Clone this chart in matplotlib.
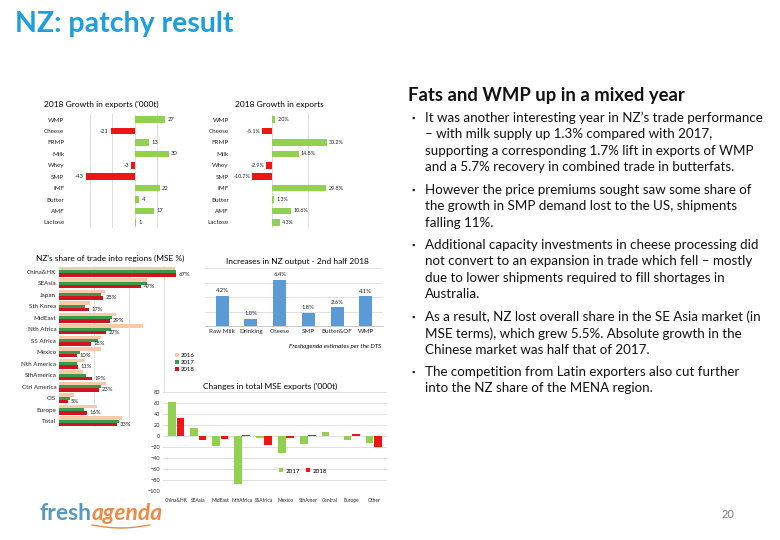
import matplotlib
matplotlib.use("Agg")
import numpy as np
import matplotlib.pyplot as plt

plt.rcParams['font.family'] = ['Lato', 'DejaVu Sans']

# ---- data ----
prod_cats = ['WMP', 'Cheese', 'FRMP', 'Milk', 'Whey', 'SMP', 'IMF', 'Butter', 'AMF', 'Lactose']
growth_kt = [27, -21, 13, 30, -3, -43, 22, 4, 17, 1]
growth_pct = [2.0, -5.1, 30.2, 14.8, -2.9, -10.7, 29.8, 1.3, 10.6, 4.3]

regions = ['China&HK', 'SEAsia', 'Japan', 'Sth Korea', 'MidEast', 'Nth Africa', 'SS Africa',
           'Mexico', 'Nth America', 'SthAmerica', 'Ctrl America', 'CIS', 'Europe', 'Total']
share_2016 = [66.5, 50, 26, 17.5, 32.5, 48, 24, 24, 15, 13.5, 27, 8.5, 21.5, 36]
share_2017 = [67, 50, 24, 15, 30, 29.5, 22, 12, 10, 15.5, 24, 6.5, 14, 34]
share_2018 = [67, 47, 25, 17, 29, 27, 18, 10, 11, 19, 23, 5, 16, 33]

output_cats = ['Raw Milk', 'Drinking', 'Cheese', 'SMP', 'Butter&OF', 'WMP']
output_pct = [4.2, 1.0, 6.4, 1.8, 2.6, 4.1]

mse_cats = ['China&HK', 'SEAsia', 'MidEast', 'NthAfrica', 'SSAfrica', 'Mexico',
            'SthAmer', 'Central', 'Europe', 'Other']
mse_2017 = [62, 15, -18, -88, -3, -30, -14, 7, -8, -12]
mse_2018 = [33, -7, -5, 2, -16, -3, 2, 0, 3, -20]

bullets = [
    ["It was another interesting year in NZ\u2019s trade performance",
     "\u2013 with milk supply up 1.3% compared with 2017,",
     "supporting a corresponding 1.7% lift in exports of WMP",
     "and a 5.7% recovery in combined trade in butterfats."],
    ["However the price premiums sought saw some share of",
     "the growth in SMP demand lost to the US, shipments",
     "falling 11%."],
    ["Additional capacity investments in cheese processing did",
     "not convert to an expansion in trade which fell \u2013 mostly",
     "due to lower shipments required to fill shortages in",
     "Australia."],
    ["As a result, NZ lost overall share in the SE Asia market (in",
     "MSE terms), which grew 5.5%. Absolute growth in the",
     "Chinese market was half that of 2017."],
    ["The competition from Latin exporters also cut further",
     "into the NZ share of the MENA region."],
]
bullet_y = [118, 190, 245, 317, 372]

GREEN = '#92D050'
RED = '#F01515'
TAN = '#F6C9A8'
DGREEN = '#3A9A4C'
DRED = '#D0131E'
BLUE = '#5B9BD5'
GRID = '#D9D9D9'
W, H = 780, 540


def box(x0, y0, x1, y1):
    # pixel box (top-left origin) -> figure fraction rect
    return [x0 / W, 1 - y1 / H, (x1 - x0) / W, (y1 - y0) / H]


def clean(ax):
    for s in ax.spines.values():
        s.set_visible(False)
    ax.tick_params(length=0, labelsize=4.5, colors='#222222', pad=2)


fig = plt.figure(figsize=(7.8, 5.4), dpi=100)

fig.text(15 / W, 1 - 24 / H, 'NZ: patchy result', color='#1E9FDA', fontsize=20.5,
         fontweight='bold', va='center', ha='left')

# ---- chart 1: growth in exports ('000t) ----
ax1 = fig.add_axes(box(67, 114, 180, 228))
y = np.arange(len(prod_cats))
ax1.barh(y, growth_kt, height=0.58, color=[GREEN if v >= 0 else RED for v in growth_kt], zorder=2)
ax1.set_xlim(-60, 40)
ax1.set_ylim(len(prod_cats) - 0.5, -0.5)
ax1.set_xticks([-40, -20, 0, 20, 40])
ax1.set_xticklabels([])
ax1.set_yticks(y)
ax1.set_yticklabels(prod_cats)
ax1.grid(axis='x', color=GRID, lw=0.6, zorder=0)
clean(ax1)
for i, v in enumerate(growth_kt):
    ax1.text(v + (2 if v >= 0 else -2), i, str(v), fontsize=4.2, va='center',
             ha='left' if v >= 0 else 'right', color='#222222')
fig.text(101 / W, 1 - 104 / H, "2018 Growth in exports ('000t)", fontsize=6, ha='center', va='center')

# ---- chart 2: growth in exports (%) ----
ax2 = fig.add_axes(box(237, 114, 343, 228))
ax2.barh(y, growth_pct, height=0.58, color=[GREEN if v >= 0 else RED for v in growth_pct], zorder=2)
ax2.set_xlim(-19, 39)
ax2.set_ylim(len(prod_cats) - 0.5, -0.5)
ax2.set_xticks([0, 20])
ax2.set_xticklabels([])
ax2.set_yticks(y)
ax2.set_yticklabels(prod_cats)
ax2.grid(axis='x', color=GRID, lw=0.6, zorder=0)
clean(ax2)
ax2.tick_params(axis='y', pad=6)
for i, v in enumerate(growth_pct):
    ax2.text(v + (1.2 if v >= 0 else -1.0), i, f'{v:.1f}%', fontsize=3.9, va='center',
             ha='left' if v >= 0 else 'right', color='#222222')
fig.text(279 / W, 1 - 104 / H, '2018 Growth in exports', fontsize=6, ha='center', va='center')

# ---- chart 3: NZ share of trade by region ----
ax3 = fig.add_axes(box(59, 266, 199, 427))
yr = np.arange(len(regions))
bh = 0.28
b16 = ax3.barh(yr - bh, share_2016, height=bh, color=TAN, zorder=2, label='2016')
b17 = ax3.barh(yr, share_2017, height=bh, color=DGREEN, zorder=2, label='2017')
b18 = ax3.barh(yr + bh, share_2018, height=bh, color=DRED, zorder=2, label='2018')
ax3.set_xlim(0, 80)
ax3.set_ylim(len(regions) - 0.5, -0.5)
ax3.set_xticks([20, 40, 60])
ax3.set_xticklabels([])
ax3.set_yticks(yr)
ax3.set_yticklabels(regions)
ax3.grid(axis='x', color=GRID, lw=0.6, zorder=0)
clean(ax3)
for i, v in enumerate(share_2018):
    ax3.text(v + 1.5, i + bh, f'{v:.0f}%', fontsize=4.2, va='center', ha='left', color='#222222')
ax3.legend(handles=[b16, b17, b18], loc='upper left', bbox_to_anchor=(172 / W, 1 - 350 / H),
           bbox_transform=fig.transFigure, frameon=False, fontsize=4.3,
           handlelength=0.6, handleheight=0.6, handletextpad=0.4, labelspacing=0.35,
           borderpad=0)
fig.text(110 / W, 1 - 258 / H, "NZ's share of trade into regions (MSE %)", fontsize=6,
         ha='center', va='center')

# ---- chart 4: NZ output increases ----
ax4 = fig.add_axes(box(205, 268, 383, 326))
xo = np.arange(len(output_cats))
ax4.bar(xo, output_pct, width=0.45, color=BLUE, zorder=2)
ax4.set_ylim(0, 8)
ax4.set_xlim(-0.6, len(output_cats) - 0.4)
ax4.set_yticks([2, 4, 6, 8])
ax4.set_yticklabels([])
ax4.set_xticks(xo)
ax4.set_xticklabels(output_cats)
ax4.grid(axis='y', color=GRID, lw=0.6, zorder=0)
clean(ax4)
ax4.spines['bottom'].set_visible(True)
ax4.spines['bottom'].set_color('#BFBFBF')
ax4.spines['bottom'].set_linewidth(0.6)
for i, v in enumerate(output_pct):
    ax4.text(i, v + 0.35, f'{v:.1f}%', fontsize=4.2, ha='center', va='bottom', color='#222222')
fig.text(297 / W, 1 - 261 / H, 'Increases in NZ output - 2nd half 2018', fontsize=6,
         ha='center', va='center')
fig.text(381 / W, 1 - 346 / H, 'Freshagenda estimates per the DTS', fontsize=4.5,
         style='italic', ha='right', va='center')

# ---- chart 5: changes in total MSE exports ----
ax5 = fig.add_axes(box(163, 392, 387, 491))
xm = np.arange(len(mse_cats))
bw = 0.33
ax5.bar(xm - bw / 2 - 0.02, mse_2017, width=bw, color=GREEN, zorder=2, label='2017')
ax5.bar(xm + bw / 2 + 0.02, mse_2018, width=bw, color=RED, zorder=2, label='2018')
ax5.set_ylim(-100, 80)
ax5.set_xlim(-0.6, len(mse_cats) - 0.4)
ax5.set_yticks(np.arange(-100, 81, 20))
ax5.set_xticks(xm)
ax5.set_xticklabels(mse_cats)
ax5.grid(axis='y', color=GRID, lw=0.6, zorder=0)
clean(ax5)
ax5.tick_params(axis='y', labelsize=4.0)
ax5.tick_params(axis='x', labelsize=3.5, pad=5)
ax5.legend(loc='center', ncol=2, bbox_to_anchor=(303 / W, 1 - 471 / H),
           bbox_transform=fig.transFigure, frameon=False, fontsize=4.5,
           handlelength=0.6, handleheight=0.6, handletextpad=0.4, columnspacing=1.0)
fig.text(270 / W, 1 - 386 / H, "Changes in total MSE exports ('000t)", fontsize=6,
         ha='center', va='center')

# ---- right-hand commentary ----
fig.text(408 / W, 1 - 95 / H, 'Fats and WMP up in a mixed year', fontsize=13.3,
         fontweight='bold', color='#111111', ha='left', va='center')
for lines, y0 in zip(bullets, bullet_y):
    fig.text(411 / W, 1 - y0 / H, '\u25aa', fontsize=6, ha='left', va='center', color='#222222')
    for k, line in enumerate(lines):
        fig.text(425 / W, 1 - (y0 + 16.4 * k) / H, line, fontsize=9.6, ha='left', va='center',
                 color='#111111')

# ---- footer ----
fig.text(40 / W, 1 - 513 / H, 'fresh', fontsize=16.5, fontweight='bold', color='#5A97BD',
         ha='left', va='center')
fig.text(92 / W, 1 - 513 / H, 'agenda', fontsize=16.5, fontweight='bold', style='italic',
         color='#EE8A45', ha='left', va='center')
sx = np.linspace(92, 150, 30)
sy = 525 + 3 * np.sin((sx - 92) / 58 * np.pi)
fig.add_artist(plt.Line2D(sx / W, 1 - sy / H, color='#EE8A45', lw=1.0))
fig.text(728 / W, 1 - 515 / H, '20', fontsize=8, color='#7F7F7F', ha='center', va='center')

fig.savefig('out.png', dpi=100)
